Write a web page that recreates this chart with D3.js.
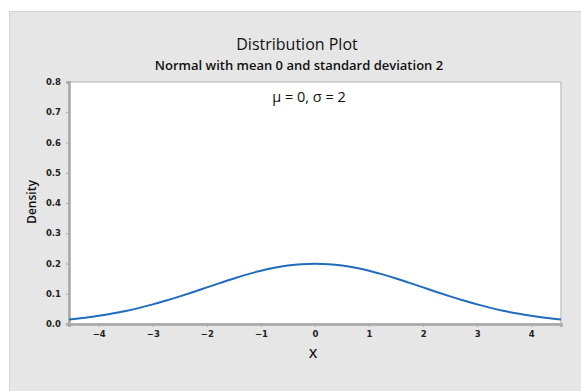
<!doctype html>
<html>
  <head>
    <meta charset="utf-8"/>
    <title>Distribution Plot</title>
    <style>
      body, html {
        margin: 0;
        padding: 0;
        background: white;
        font-family: "Open Sans", "DejaVu Sans", sans-serif;
      }
    </style>
    <script src="https://d3js.org/d3.v7.min.js"></script>
  </head>
  <body>
    <svg width="581" height="391"></svg>
    <script>
      // density values
      var xs = [-4.55, -4.25, -4, -3.75, -3.5, -3.25, -3, -2.75, -2.5, -2.25, -2, -1.75, -1.5, -1.25, -1, -0.75, -0.5, -0.25,
                0, 0.25, 0.5, 0.75, 1, 1.25, 1.5, 1.75, 2, 2.25, 2.5, 2.75, 3, 3.25, 3.5, 3.75, 4, 4.25, 4.55];
      var density = [0.0150, 0.0209, 0.0270, 0.0344, 0.0431, 0.0533, 0.0648, 0.0775, 0.0913, 0.1059, 0.1210, 0.1360, 0.1506, 0.1641, 0.1760, 0.1859, 0.1933, 0.1979,
                     0.1995, 0.1979, 0.1933, 0.1859, 0.1760, 0.1641, 0.1506, 0.1360, 0.1210, 0.1059, 0.0913, 0.0775, 0.0648, 0.0533, 0.0431, 0.0344, 0.0270, 0.0209, 0.0150];
      var xTicks = [-4, -3, -2, -1, 0, 1, 2, 3, 4];
      var yTicks = [0.0, 0.1, 0.2, 0.3, 0.4, 0.5, 0.6, 0.7, 0.8];

      var svg = d3.select("svg");
      var plot = {left: 69, top: 82, right: 561, bottom: 324};

      // gray panel
      svg.append("rect")
        .attr("x", 9.5).attr("y", 11.5)
        .attr("width", 590).attr("height", 400)
        .attr("fill", "#e6e6e6")
        .attr("stroke", "#d4d4d4");

      var x = d3.scaleLinear().domain([-4.55, 4.55]).range([plot.left, plot.right]);
      var y = d3.scaleLinear().domain([0, 0.8]).range([plot.bottom, plot.top]);

      svg.append("rect")
        .attr("x", plot.left).attr("y", plot.top)
        .attr("width", plot.right - plot.left).attr("height", plot.bottom - plot.top)
        .attr("fill", "white")
        .attr("stroke", "#c8c8c8")
        .attr("stroke-width", 1.5);

      var xAxis = svg.append("g")
        .attr("transform", "translate(0," + plot.bottom + ")")
        .call(d3.axisBottom(x).tickValues(xTicks).tickSize(3).tickPadding(4).tickFormat(d3.format("d")));
      var yAxis = svg.append("g")
        .attr("transform", "translate(" + plot.left + ",0)")
        .call(d3.axisLeft(y).tickValues(yTicks).tickSize(3).tickPadding(5).tickFormat(d3.format(".1f")));

      [xAxis, yAxis].forEach(function(a) {
        a.select(".domain").attr("stroke", "#a8a8a8").attr("stroke-width", 2.5);
        a.selectAll(".tick line").attr("stroke", "#a8a8a8");
        a.selectAll(".tick text")
          .attr("fill", "#222")
          .style("font-size", "8.5px")
          .style("font-weight", "bold")
          .style("font-family", "'DejaVu Sans', sans-serif");
      });

      var line = d3.line()
        .x(function(d, i) { return x(xs[i]); })
        .y(function(d) { return y(d); })
        .curve(d3.curveMonotoneX);

      svg.append("path")
        .datum(density)
        .attr("d", line)
        .attr("fill", "none")
        .attr("stroke", "#1f6cbe")
        .attr("stroke-width", 2);

      svg.append("text")
        .attr("x", 297).attr("y", 50)
        .attr("text-anchor", "middle")
        .style("font-size", "16px")
        .style("font-weight", "500")
        .attr("fill", "#111")
        .text("Distribution Plot");

      svg.append("text")
        .attr("x", 299).attr("y", 70)
        .attr("text-anchor", "middle")
        .style("font-size", "13px")
        .style("font-weight", "600")
        .attr("fill", "#111")
        .text("Normal with mean 0 and standard deviation 2");

      svg.append("text")
        .attr("x", 309).attr("y", 102)
        .attr("text-anchor", "middle")
        .style("font-size", "14.5px")
        .attr("fill", "#111")
        .text("\u03bc = 0, \u03c3 = 2");

      svg.append("text")
        .attr("transform", "translate(36,202) rotate(-90)")
        .attr("text-anchor", "middle")
        .style("font-size", "12px")
        .style("font-weight", "600")
        .attr("fill", "#111")
        .text("Density");

      svg.append("text")
        .attr("x", 313).attr("y", 358)
        .attr("text-anchor", "middle")
        .style("font-size", "13px")
        .style("font-weight", "600")
        .attr("fill", "#111")
        .text("X");
    </script>
  </body>
</html>
